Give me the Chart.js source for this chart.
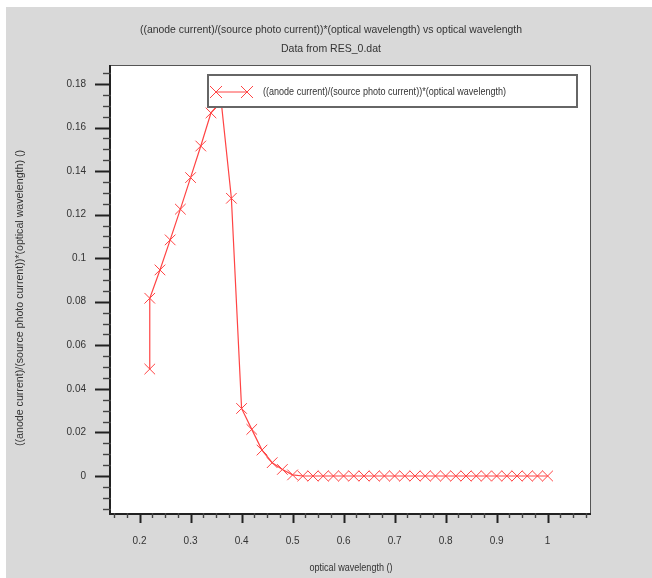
<!DOCTYPE html>
<html lang="en">
<head>
    <meta charset="UTF-8">
    <title>RES_0 plot</title>
    <script src="https://cdn.jsdelivr.net/npm/chart.js"></script>
    <style>
        body {
            margin: 0;
            background: #ffffff;
            overflow: hidden;
        }
        canvas {
            display: block;
        }
    </style>
</head>
<body>
    <canvas id="plot" width="652" height="578"></canvas>

    <script>
        // data (x = optical wavelength)
        const wavelength = [0.22, 0.22, 0.24, 0.26, 0.28, 0.30, 0.32, 0.34, 0.36, 0.38,
            0.40, 0.42, 0.44, 0.46, 0.48, 0.50, 0.52, 0.54, 0.56, 0.58, 0.60,
            0.62, 0.64, 0.66, 0.68, 0.70, 0.72, 0.74, 0.76, 0.78, 0.80,
            0.82, 0.84, 0.86, 0.88, 0.90, 0.92, 0.94, 0.96, 0.98, 1.00];
        const response = [0.0491, 0.0816, 0.0946, 0.1084, 0.1225, 0.137, 0.1515, 0.1667, 0.172, 0.1275,
            0.031, 0.0214, 0.0119, 0.0061, 0.003, 0.0005, 0, 0, 0, 0, 0,
            0, 0, 0, 0, 0, 0, 0, 0, 0, 0,
            0, 0, 0, 0, 0, 0, 0, 0, 0, 0];

        const titleText = "((anode current)/(source photo current))*(optical wavelength) vs optical wavelength";
        const subtitleText = "Data from RES_0.dat";
        const seriesLabel = "((anode current)/(source photo current))*(optical wavelength)";
        const xAxisTitle = "optical wavelength ()";
        const yAxisTitle = "((anode current)/(source photo current))*(optical wavelength) ()";

        const FONT = "'Liberation Sans', Arial, sans-serif";
        const TEXT = "#333333";
        const RED = "#ff4444";

        // draw text squeezed to a given width (the original looks narrow)
        function squeezeText(ctx, text, x, y, width, align, rotate) {
            ctx.save();
            ctx.translate(x, y);
            if (rotate) ctx.rotate(-Math.PI / 2);
            let w = ctx.measureText(text).width;
            ctx.scale(width / w, 1);
            ctx.textAlign = align;
            ctx.textBaseline = "middle";
            ctx.fillText(text, 0, 0);
            ctx.restore();
        }

        const decorPlugin = {
            id: "decor",
            beforeDraw(chart) {
                let ctx = chart.ctx;
                let a = chart.chartArea;
                ctx.save();
                ctx.fillStyle = "#ffffff";
                ctx.fillRect(0, 0, chart.width, chart.height);
                ctx.fillStyle = "#d9d9d9";
                ctx.fillRect(6, 7, chart.width - 6, chart.height - 7);
                ctx.fillStyle = "#ffffff";
                ctx.fillRect(a.left, a.top, a.right - a.left, a.bottom - a.top);

                // titles
                ctx.fillStyle = TEXT;
                ctx.font = "11px " + FONT;
                squeezeText(ctx, titleText, 331, 30, 382, "center");
                squeezeText(ctx, subtitleText, 331, 49, 100, "center");
                squeezeText(ctx, xAxisTitle, 351, 568, 83, "center");
                squeezeText(ctx, yAxisTitle, 20, 298, 296, "center", true);
                ctx.restore();
            },
            afterDraw(chart) {
                let ctx = chart.ctx;
                let a = chart.chartArea;
                let xs = chart.scales.x;
                let ys = chart.scales.y;
                ctx.save();

                // frame
                ctx.strokeStyle = "#555555";
                ctx.lineWidth = 1;
                ctx.beginPath();
                ctx.moveTo(a.left, a.top + 0.5);
                ctx.lineTo(a.right - 0.5, a.top + 0.5);
                ctx.lineTo(a.right - 0.5, a.bottom);
                ctx.stroke();
                ctx.strokeStyle = "#222222";
                ctx.lineWidth = 2;
                ctx.beginPath();
                ctx.moveTo(a.left - 1, a.top);
                ctx.lineTo(a.left - 1, a.bottom + 1);
                ctx.lineTo(a.right, a.bottom + 1);
                ctx.stroke();

                // x ticks: minor every 0.025, major every 0.1
                for (let k = 0; k <= 50; k++) {
                    let v = k * 0.025;
                    if (v < xs.min || v > xs.max) continue;
                    let px = Math.round(xs.getPixelForValue(v)) + 0.5;
                    let major = k % 4 === 0;
                    ctx.strokeStyle = major ? "#222222" : "#444444";
                    ctx.lineWidth = major ? 2 : 1.4;
                    ctx.beginPath();
                    ctx.moveTo(px, a.bottom);
                    ctx.lineTo(px, a.bottom + (major ? 10 : 5));
                    ctx.stroke();
                }
                // y ticks: minor every 0.005, major every 0.02
                for (let k = -5; k <= 40; k++) {
                    let v = k * 0.005;
                    if (v < ys.min || v > ys.max) continue;
                    let py = Math.round(ys.getPixelForValue(v)) + 0.5;
                    let major = k % 4 === 0;
                    ctx.strokeStyle = major ? "#222222" : "#444444";
                    ctx.lineWidth = major ? 2 : 1.4;
                    ctx.beginPath();
                    ctx.moveTo(a.left, py);
                    ctx.lineTo(a.left - (major ? 16 : 8), py);
                    ctx.stroke();
                }

                // legend box (sits over the peak)
                let lx = 208, ly = 75, lw = 369, lh = 32;
                ctx.fillStyle = "#ffffff";
                ctx.fillRect(lx, ly, lw, lh);
                ctx.strokeStyle = "#666666";
                ctx.lineWidth = 2;
                ctx.strokeRect(lx, ly, lw, lh);
                let my = ly + 17;
                ctx.strokeStyle = RED;
                ctx.lineWidth = 1;
                ctx.beginPath();
                ctx.moveTo(216, my);
                ctx.lineTo(247, my);
                [216, 247].forEach(cx => {
                    ctx.moveTo(cx - 6, my - 6);
                    ctx.lineTo(cx + 6, my + 6);
                    ctx.moveTo(cx - 6, my + 6);
                    ctx.lineTo(cx + 6, my - 6);
                });
                ctx.stroke();
                ctx.fillStyle = TEXT;
                ctx.font = "11px " + FONT;
                squeezeText(ctx, seriesLabel, 263, my, 243, "left");
                ctx.restore();
            }
        };

        let points = wavelength.map((w, i) => ({ x: w, y: response[i] }));

        let ctx = document.getElementById("plot").getContext("2d");
        let chart = new Chart(ctx, {
            type: "scatter",
            data: {
                datasets: [{
                    label: seriesLabel,
                    data: points,
                    showLine: true,
                    borderColor: RED,
                    backgroundColor: RED,
                    borderWidth: 1.2,
                    pointStyle: "crossRot",
                    pointRadius: 7.5,
                    pointBorderWidth: 1,
                    tension: 0
                }]
            },
            options: {
                responsive: false,
                animation: false,
                layout: { padding: { left: 0, right: 61, top: 65, bottom: 0 } },
                plugins: {
                    legend: { display: false },
                    title: { display: false },
                    tooltip: { enabled: false }
                },
                scales: {
                    x: {
                        type: "linear",
                        min: 0.144,
                        max: 1.085,
                        grid: { display: false, drawTicks: false, tickLength: 0 },
                        border: { display: false },
                        afterFit: s => { s.height = 65; },
                        ticks: {
                            stepSize: 0.1,
                            includeBounds: false,
                            padding: 22,
                            color: TEXT,
                            font: { family: FONT, size: 10 },
                            callback: v => String(+v.toFixed(3))
                        }
                    },
                    y: {
                        type: "linear",
                        min: -0.017,
                        max: 0.1887,
                        grid: { display: false, drawTicks: false, tickLength: 0 },
                        border: { display: false },
                        afterFit: s => { s.width = 111; },
                        ticks: {
                            stepSize: 0.02,
                            includeBounds: false,
                            padding: 25,
                            color: TEXT,
                            font: { family: FONT, size: 10 },
                            callback: v => String(+v.toFixed(3))
                        }
                    }
                }
            },
            plugins: [decorPlugin]
        });
    </script>
</body>
</html>
